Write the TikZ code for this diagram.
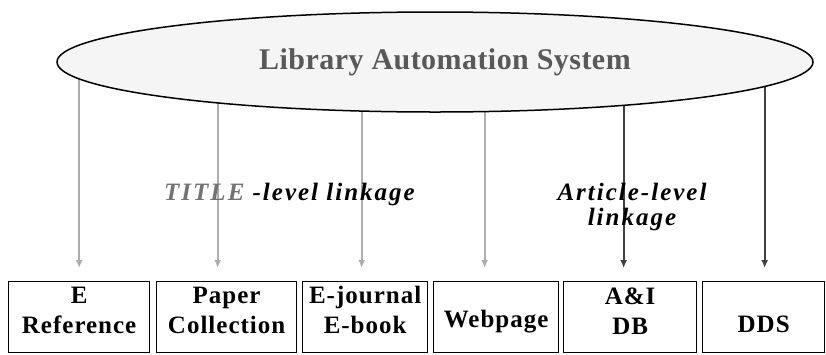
\documentclass[tikz,border=0pt]{standalone}
\usepackage{fontspec}
\setmainfont{Liberation Serif}
\newfontfamily\ellfont[LetterSpace=1.5]{Liberation Serif}
\newfontfamily\boxfont[LetterSpace=4]{Liberation Serif}
\newfontfamily\labfont[LetterSpace=8]{Liberation Serif}
\usetikzlibrary{arrows.meta,backgrounds,shapes.geometric}
\begin{document}
\begin{tikzpicture}[x=1pt,y=-1pt,
  boxnode/.style={draw=black, line width=1.3pt, anchor=north west, minimum height=71pt, inner sep=0pt},
  boxlbl/.style={font=\boxfont\bfseries\fontsize{25}{30}\selectfont, align=center, inner sep=0pt},
  graylink/.style={draw=black!32, line width=1.8pt, -{Latex[length=8pt,width=7pt]}},
  darklink/.style={draw=black!75, line width=1.8pt, -{Latex[length=8pt,width=7pt]}},
  lab/.style={font=\labfont\bfseries\itshape\fontsize{25}{25}\selectfont, inner sep=0pt}]
\useasboundingbox (0,0) rectangle (826,354);
\node[ellipse, draw=black, line width=1.5pt, fill=black!4, minimum width=756pt, minimum height=100pt, inner sep=0pt] (las) at (435,62) {};
\node[font=\ellfont\bfseries\fontsize{30}{32}\selectfont, text=black!65, inner sep=0pt] (lastext) at (445,62) {Library Automation System};
% boxes
\node[boxnode, minimum width=141pt] (b1) at (8,281) {};
\node[boxnode, minimum width=140pt] (b2) at (156,281) {};
\node[boxnode, minimum width=125pt] (b3) at (302,281) {};
\node[boxnode, minimum width=125pt] (b4) at (433,281) {};
\node[boxnode, minimum width=133pt] (b5) at (563,281) {};
\node[boxnode, minimum width=122pt] (b6) at (702,281) {};
\node[boxlbl] (t1) at ([yshift=7pt]b1.center) {E\\Reference};
\node[boxlbl] (t2) at ([yshift=7pt]b2.center) {Paper\\Collection};
\node[boxlbl] (t3) at ([yshift=7pt]b3.center) {E-journal\\E-book};
\node[boxlbl] (t4) at ([yshift=-4pt]b4.center) {Webpage};
\node[boxlbl] (t5) at ([yshift=6pt]b5.center) {A\&I\\DB};
\node[boxlbl] (t6) at ([yshift=-7pt]b6.center) {DDS};
% labels
\node[lab, anchor=base west] (tl) at (164,200) {\textcolor{black!55}{TITLE} -level linkage};
\node[lab, align=center] (al) at (632,207) {Article-level\\linkage};
% connectors
\begin{scope}[on background layer]
\draw[graylink] (b1.north |- las.center) -- ([yshift=13pt]b1.north);
\draw[graylink] ([xshift=-9pt]b2.north |- las.center) -- ([xshift=-9pt,yshift=13pt]b2.north);
\draw[graylink] ([xshift=-3.5pt]b3.north |- las.center) -- ([xshift=-3.5pt,yshift=13pt]b3.north);
\draw[graylink] ([xshift=-11.5pt]b4.north |- las.center) -- ([xshift=-11.5pt,yshift=13pt]b4.north);
\draw[darklink] ([xshift=-6.5pt]b5.north |- las.center) -- ([xshift=-6.5pt,yshift=13pt]b5.north);
\draw[darklink] ([xshift=1pt]b6.north |- las.center) -- ([xshift=1pt,yshift=13pt]b6.north);
\end{scope}
\end{tikzpicture}
\end{document}
